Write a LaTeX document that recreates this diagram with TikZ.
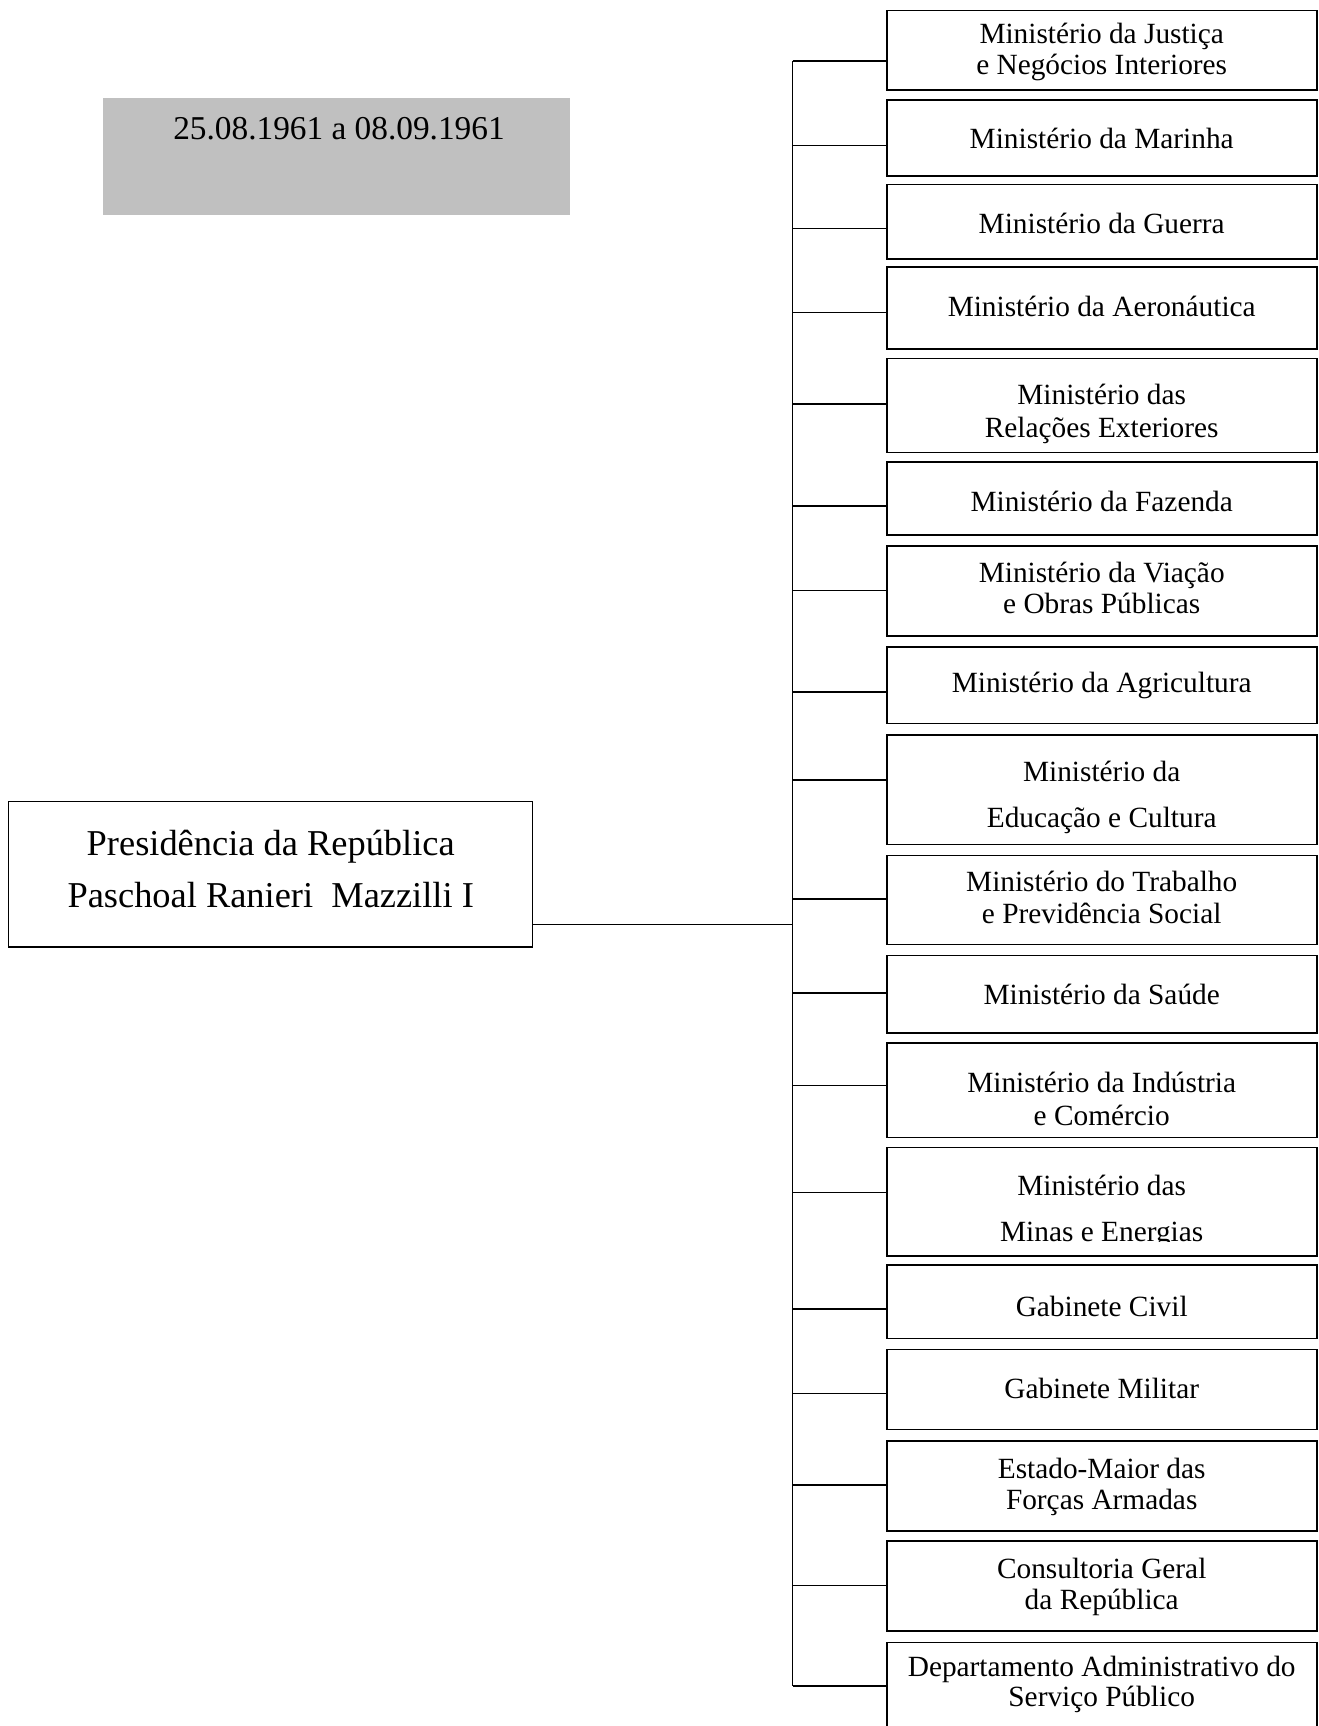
\documentclass[tikz,border=0pt]{standalone}
\usepackage{fontspec}
\setmainfont{Liberation Serif}
\usetikzlibrary{calc}

\definecolor{dategray}{RGB}{192,192,192}

\begin{document}
\begin{tikzpicture}
      [
        x=0.75pt, y=-0.75pt,
        orgbox/.style={draw=black, line width=1.2pt, minimum width=322.5pt, inner sep=0pt},
        boxtext/.style={align=center, font=\fontsize{22}{23}\selectfont},
        conn/.style={line width=1.1pt}
      ]
      \useasboundingbox (0,0) rectangle (1318,1726);
      % period
      \node [fill=dategray, inner sep=0pt, minimum width=350.25pt, minimum height=87.5pt] (date) at (336.5,156.35) {};
      \node [anchor=base, font=\fontsize{25}{30}\selectfont] (date-t) at (339,140) {25.08.1961 a 08.09.1961};
      % presidency
      \node [draw=black, line width=1.2pt, inner sep=0pt, minimum width=393pt, minimum height=109pt] (pres) at (270.65,874.35) {};
      \node [align=center, font=\fontsize{27.3}{30}\selectfont] (pres-t) at (270.7,869)
        {Presidência da República\\[9pt]Paschoal Ranieri~ Mazzilli I};
      % ministries and other organs
      \foreach \nm/\ya/\yb/\yc/\yt/\cb/\txt in {
          justica/10.7/90.3/61/51.7/90.3/{Ministério da Justiça\\e Negócios Interiores},
          marinha/100/176/145.7/138.8/176/{Ministério da Marinha},
          guerra/184.7/259.3/228.7/223.6/259.3/{Ministério da Guerra},
          aero/267.3/348.7/312.7/306/348.7/{Ministério da Aeronáutica},
          relext/358.3/452.3/404/413.5/452.3/{Ministério das\\[1.8pt]Relações Exteriores},
          fazenda/462/535/506/501/535/{Ministério da Fazenda},
          viacao/546/635.7/590.3/588/635.7/{Ministério da Viação\\e Obras Públicas},
          agric/646.7/723.3/692/685/723.3/{Ministério da Agricultura},
          educ/734.7/844.3/780/797/844.3/{Ministério da\\[11.5pt]Educação e Cultura},
          trab/855.3/944.3/899/897/944.3/{Ministério do Trabalho\\[1pt]e Previdência Social},
          saude/955.3/1032.7/993/994.5/1032.7/{Ministério da Saúde},
          industria/1043/1137.3/1085.7/1099/1137.3/{Ministério da Indústria\\[1.8pt]e Comércio},
          minas/1147.3/1256/1192.7/1211/1241/{Ministério das\\[11.5pt]Minas e Energias},
          gabciv/1265/1338.3/1309/1306/1338.3/{Gabinete Civil},
          gabmil/1349.3/1429.3/1393.7/1388.8/1429.3/{Gabinete Militar},
          emfa/1441/1530.7/1485/1487/1530.7/{Estado-Maior das\\Forças Armadas},
          consult/1541/1631/1585.3/1587/1631/{Consultoria Geral\\da República},
          dasp/1642.3/1770/1686/1684.5/1770/{Departamento Administrativo do\\Serviço Público}} {
          \node [orgbox, minimum height={(\yb-\ya)*0.75pt}] (\nm) at (1101.7,{(\ya+\yb)/2}) {};
          \begin{scope}
            \clip (886.7,\ya) rectangle (1316.7,\cb);
            \node [boxtext] (\nm-t) at (1101.7,\yt) {\txt};
          \end{scope}
          \coordinate (\nm-j) at (792.7,\yc);
          \draw [conn] (\nm-j) -- (\nm-j -| \nm.west);
      }
      % spine
      \coordinate (pres-j) at (792.7,924.3);
      \draw [conn] (justica-j) -- (dasp-j);
      \draw [conn] (pres-j -| pres.east) -- (pres-j);
\end{tikzpicture}
\end{document}
